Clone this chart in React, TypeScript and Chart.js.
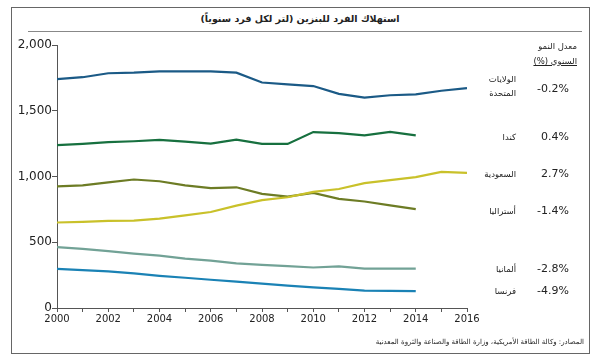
import React, { useEffect, useRef } from "react";
import { Chart, registerables } from "chart.js";

Chart.register(...registerables);

const years = [2000, 2001, 2002, 2003, 2004, 2005, 2006, 2007, 2008, 2009, 2010, 2011, 2012, 2013, 2014, 2015, 2016];
const usa = [1740, 1755, 1785, 1790, 1800, 1800, 1800, 1790, 1715, 1700, 1688, 1628, 1600, 1618, 1625, 1652, 1672];
const canada = [1238, 1248, 1262, 1268, 1278, 1265, 1250, 1280, 1248, 1248, 1338, 1330, 1313, 1340, 1313];
const saudi = [650, 655, 662, 665, 680, 705, 730, 778, 820, 842, 883, 905, 950, 972, 995, 1035, 1028];
const australia = [925, 932, 955, 977, 964, 932, 912, 918, 868, 847, 875, 830, 810, 780, 752];
const germany = [463, 450, 433, 414, 398, 375, 360, 340, 328, 318, 308, 316, 300, 300, 300];
const france = [298, 288, 278, 263, 245, 230, 215, 200, 185, 170, 157, 145, 132, 130, 128];

const seriesNames = ["الولايات المتحدة", "كندا", "السعودية", "أستراليا", "ألمانيا", "فرنسا"];
const growthRates = ["-0.2%", "0.4%", "2.7%", "-1.4%", "-2.8%", "-4.9%"];
const seriesColors = ["#1b5a86", "#17703f", "#c9c12a", "#6d7c25", "#72a296", "#1a82b5"];
const yTicks = [0, 500, 1000, 1500, 2000];

const titleText = "استهلاك الفرد للبنزين (لتر لكل فرد سنوياً)";
const sourceText = "المصادر: وكالة الطاقة الأمريكية، وزارة الطاقة والصناعة والثروة المعدنية";
const headerLine1 = "معدل النمو";
const headerLine2 = "السنوي (%)";

const FONT = "'DejaVu Sans', Verdana, sans-serif";

export default function App() {
  const ref = useRef<HTMLCanvasElement | null>(null);

  useEffect(() => {
    if (!ref.current) return;
    const all = [usa, canada, saudi, australia, germany, france];
    const chart = new Chart(ref.current, {
      type: "line",
      data: {
        datasets: all.map((arr, k) => ({
          label: seriesNames[k],
          data: arr.map((v, i) => ({ x: years[i], y: v })),
          borderColor: seriesColors[k],
          backgroundColor: seriesColors[k],
          borderWidth: 2.2,
          pointRadius: 0,
          tension: 0,
          fill: false,
        })),
      },
      options: {
        responsive: false,
        animation: false,
        devicePixelRatio: 1,
        layout: { padding: { left: 0, top: 45, right: 133, bottom: 0 } },
        plugins: { legend: { display: false }, tooltip: { enabled: false }, title: { display: false } },
        scales: {
          x: {
            type: "linear",
            min: 2000,
            max: 2016,
            afterFit: (s: any) => {
              s.height = 54;
            },
            ticks: {
              stepSize: 1,
              autoSkip: false,
              maxRotation: 0,
              padding: 1,
              color: "#222",
              font: { family: FONT, size: 10 },
              callback: (v: any) => (Number(v) % 2 === 0 ? String(v) : ""),
            },
            grid: { display: true, drawOnChartArea: false, drawTicks: true, tickLength: 4, color: "#555" },
            border: { display: true, color: "#555" },
          },
          y: {
            type: "linear",
            min: 0,
            max: 2000,
            afterFit: (s: any) => {
              s.width = 57;
            },
            afterBuildTicks: (s: any) => {
              s.ticks = yTicks.map((v) => ({ value: v }));
            },
            ticks: {
              padding: 0,
              color: "#222",
              font: { family: FONT, size: 12 },
              callback: (v: any) => Number(v).toLocaleString("en-US"),
            },
            grid: { display: true, drawOnChartArea: false, drawTicks: true, tickLength: 5, color: "#555" },
            border: { display: true, color: "#555" },
          },
        },
      },
    });
    return () => chart.destroy();
  }, []);

  const labelTops = [0, 137, 174, 211, 269, 291];
  const pctTops = [89, 137, 174, 211, 269, 291];
  const lbl = { position: "absolute" as const, right: 84, fontSize: 8.5, lineHeight: "14px", textAlign: "right" as const, direction: "rtl" as const, whiteSpace: "nowrap" as const };

  return (
    <div style={{ position: "fixed", left: 0, top: 0, width: 600, height: 362, background: "#fff", fontFamily: FONT, color: "#222" }}>
      <div style={{ position: "absolute", left: 11, top: 7, width: 577, height: 345, border: "1px solid #666" }} />
      <div style={{ position: "absolute", left: 28, top: 31, width: 554, height: 1, background: "#888" }} />
      <div style={{ position: "absolute", left: 0, top: 11, width: 600, textAlign: "center", fontSize: 9.5, fontWeight: "bold", lineHeight: "16px", direction: "rtl", whiteSpace: "nowrap" }}>
        {titleText}
      </div>
      <canvas ref={ref} width={600} height={362} style={{ position: "absolute", left: 0, top: 0, width: 600, height: 362 }} />
      <div style={{ position: "absolute", right: 23, top: 39, fontSize: 8.5, lineHeight: "15px", textAlign: "right", direction: "rtl", whiteSpace: "nowrap" }}>
        <div>{headerLine1}</div>
        <div style={{ textDecoration: "underline" }}>{headerLine2}</div>
      </div>
      <div style={{ ...lbl, top: 72 }}>
        {seriesNames[0].split(" ").map((w, i) => (
          <div key={i}>{w}</div>
        ))}
      </div>
      {seriesNames.map((n, k) =>
        k === 0 ? null : (
          <div key={"n" + k} style={{ ...lbl, top: labelTops[k] - 7 }}>
            {n}
          </div>
        )
      )}
      {growthRates.map((p, k) => (
        <div key={"p" + k} style={{ position: "absolute", right: 31, top: pctTops[k] - 8, fontSize: 11, lineHeight: "16px", textAlign: "right" }}>
          {p}
        </div>
      ))}
      <div style={{ position: "absolute", right: 16, top: 335, fontSize: 7, lineHeight: "14px", textAlign: "right", direction: "rtl", whiteSpace: "nowrap" }}>
        {sourceText}
      </div>
    </div>
  );
}
